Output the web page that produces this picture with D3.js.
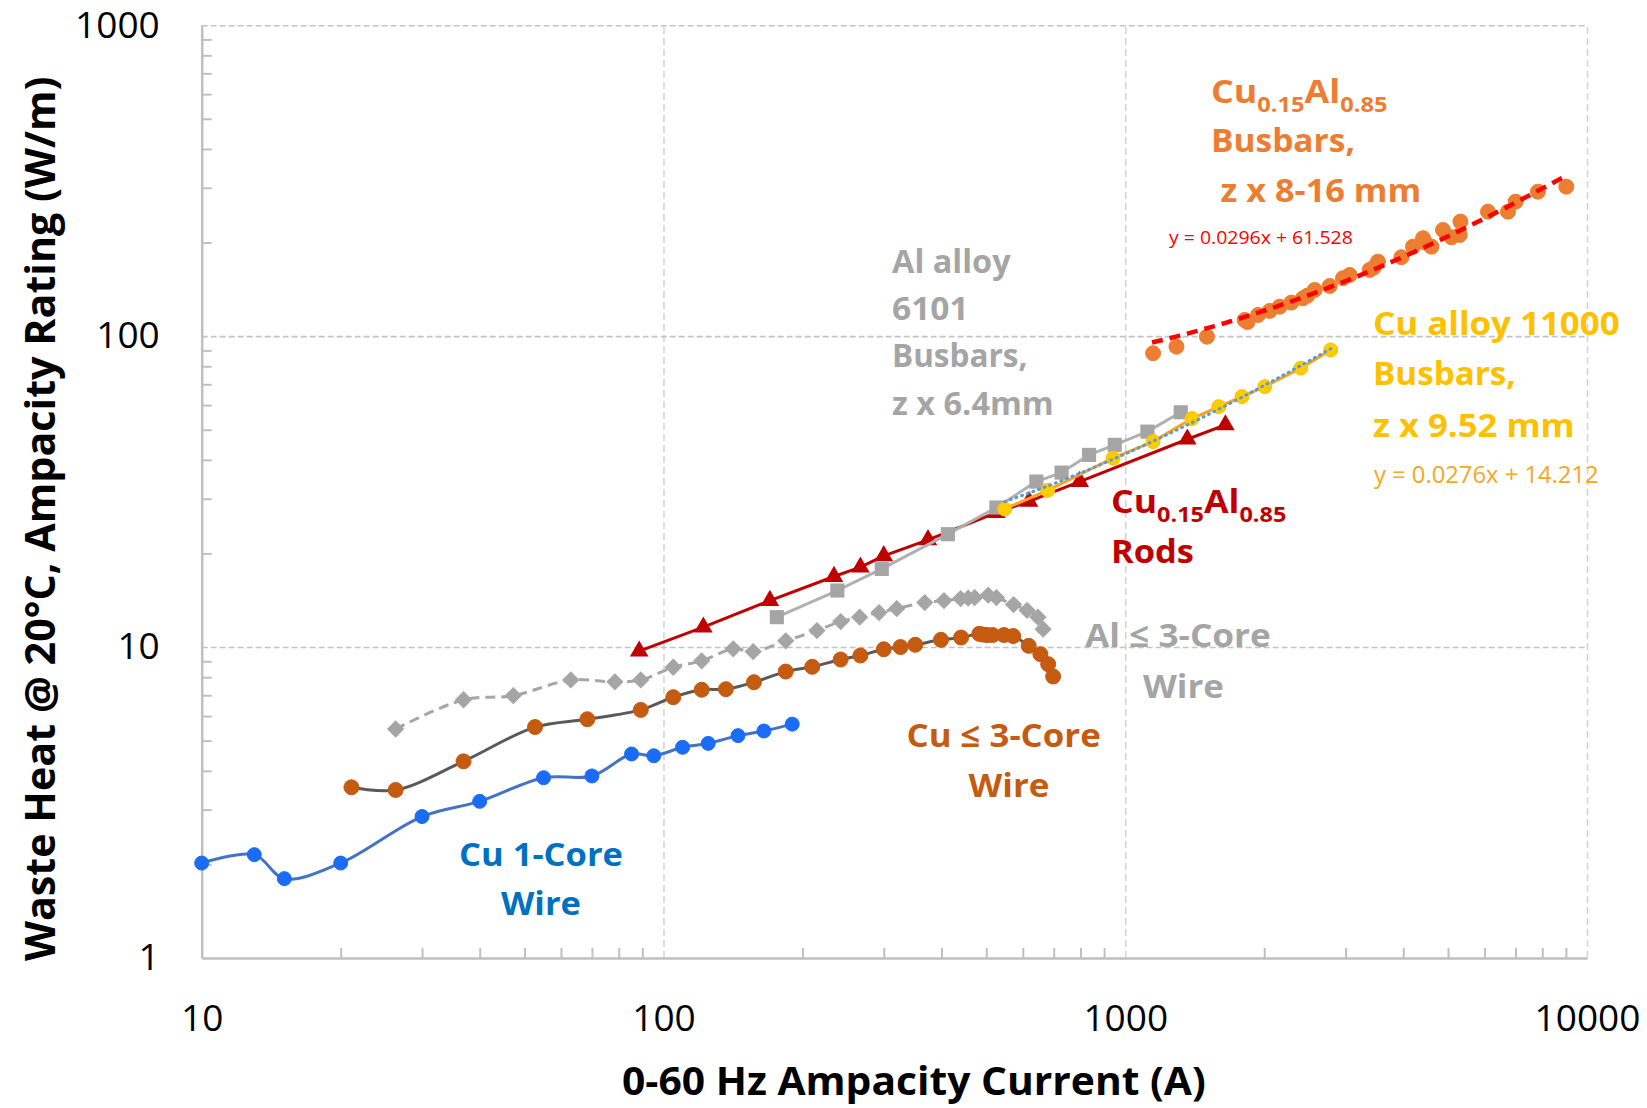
<!DOCTYPE html>
<html><head><meta charset="utf-8">
<script src="https://cdn.jsdelivr.net/npm/d3@7"></script>
<style>
body{margin:0;background:#fff}
svg{display:block}
text{font-family:"Open Sans","Noto Sans",sans-serif}
</style>
</head><body>
<svg id="c" width="1647" height="1108"></svg>
<script>
// ---------------- data ----------------
const xTicks = [10, 100, 1000, 10000];
const yTicks = [1, 10, 100, 1000];

// Cu 1-Core Wire
const cu1X = [10, 13, 15.1, 20, 30, 40, 55, 70, 85.3, 95.3, 110, 125, 145, 165, 190];
const cu1Y = [2.02, 2.15, 1.80, 2.02, 2.85, 3.19, 3.80, 3.85, 4.53, 4.47, 4.76, 4.90, 5.19, 5.37, 5.65];

// Cu <= 3-Core Wire
const cu3X = [21.1, 26.3, 36.9, 52.7, 68.4, 89.3, 105, 121, 136.5, 157, 184, 210, 242, 267, 300, 326, 351, 399, 441, 483, 492, 502, 516, 546, 572, 618, 655, 681, 698];
const cu3Y = [3.54, 3.47, 4.29, 5.53, 5.86, 6.28, 6.9, 7.29, 7.32, 7.71, 8.34, 8.64, 9.12, 9.39, 9.84, 10.0, 10.17, 10.55, 10.73, 11.03, 10.97, 10.93, 10.93, 10.93, 10.85, 10.09, 9.49, 8.81, 8.04];

// Al <= 3-Core Wire
const al3X = [26.3, 36.9, 47.3, 63, 78.5, 89.3, 105, 121, 141.6, 156.4, 184, 215, 242, 266, 293, 320, 368, 405, 440, 457, 472, 505, 526, 573, 613, 647, 664];
const al3Y = [5.45, 6.77, 6.98, 7.84, 7.73, 7.84, 8.61, 9.03, 9.87, 9.67, 10.47, 11.3, 12.08, 12.48, 12.91, 13.3, 13.9, 14.11, 14.32, 14.36, 14.43, 14.69, 14.43, 13.7, 13.13, 12.48, 11.42];

// Cu0.15Al0.85 Rods
const rodX = [88.6, 122, 170, 234, 267, 300, 374, 526, 619, 797, 1363, 1648];
const rodY = [9.7, 11.59, 14.11, 16.86, 18.07, 19.65, 22.12, 27.07, 29.4, 34.06, 46.6, 51.8];

// Al alloy 6101 Busbars
const alBusX = [176, 238, 297, 413, 526, 642, 728, 835, 949, 1117, 1319];
const alBusY = [12.48, 15.2, 17.84, 23.07, 28.1, 34.06, 36.4, 41.5, 44.7, 49.3, 56.9];

// Cu alloy 11000 Busbars
const cuAlloyX = [548, 679, 941, 1149, 1395, 1594, 1790, 2005, 2399, 2786];
const cuAlloyY = [27.8, 31.9, 40.5, 45.8, 54.3, 59.3, 63.9, 68.8, 78.9, 90.3];

// Cu0.15Al0.85 Busbars
const cuAlBusX = [1149, 1291, 1503, 1814, 1840, 1939, 2055, 2160, 2290, 2426, 2480, 2572, 2772, 2962, 3062, 3383, 3450, 3526, 3963, 4200, 4415, 4460, 4603, 4877, 5085, 5319, 5301, 6103, 6743, 7005, 7830, 9020];
const cuAlBusY = [88.1, 92.5, 99.6, 112.7, 111, 117, 120.5, 124.4, 128.2, 132.4, 135, 140.8, 145, 153.6, 157.3, 163.3, 166, 173.6, 179.4, 194, 206.5, 200, 194, 219.5, 208, 233.5, 211.6, 251.3, 251.3, 270.7, 291.5, 302.5];

// Linear trendlines as printed on the chart (slope, intercept, x-range)
const trendCuAlBus = [0.0296, 61.528];
const trendCuAlBusRange = [1143, 9080];
const trendCuAlloy = [0.0276, 14.212];
const trendCuAlloyRange = [548, 2786];

// ---------------- chart ----------------
const svg = d3.select("#c");
svg.append("rect").attr("width", 1647).attr("height", 1108).attr("fill", "#fff");

const L = 201.7, R = 1587, T = 25.2, B = 958;
const x = d3.scaleLog().domain([10, 10000]).range([L, R]);
const y = d3.scaleLog().domain([1, 1000]).range([B, T]);

const minors = (decs) => decs.flatMap(d => d3.range(2, 10).map(k => k * d));

// vertical gridlines
svg.append("g").attr("transform", `translate(0,${B})`)
  .call(d3.axisBottom(x).tickValues([100, 1000, 10000]).tickSize(-(B - T)).tickFormat(""))
  .call(g => g.select(".domain").remove())
  .call(g => g.selectAll("line").attr("stroke", "#d4d4d4").attr("stroke-width", 1.6).attr("stroke-dasharray", "7,4"));

// horizontal gridlines
svg.append("g").attr("transform", `translate(${L},0)`)
  .call(d3.axisLeft(y).tickValues([10, 100, 1000]).tickSize(-(R - L)).tickFormat(""))
  .call(g => g.select(".domain").remove())
  .call(g => g.selectAll("line").attr("stroke", "#c4c4c4").attr("stroke-width", 1.6).attr("stroke-dasharray", "6,3"));

// y axis line + minor ticks
svg.append("g").attr("transform", `translate(${L},0)`)
  .call(d3.axisRight(y).tickValues(minors([1, 10, 100])).tickSize(10).tickSizeOuter(0).tickFormat(""))
  .call(g => g.select(".domain").attr("stroke", "#bfbfbf").attr("stroke-width", 2.5))
  .call(g => g.selectAll("line").attr("stroke", "#bfbfbf").attr("stroke-width", 2));

// x axis line + minor ticks
svg.append("g").attr("transform", `translate(0,${B})`)
  .call(d3.axisTop(x).tickValues(minors([10, 100, 1000])).tickSize(10).tickSizeOuter(0).tickFormat(""))
  .call(g => g.select(".domain").attr("stroke", "#bfbfbf").attr("stroke-width", 2.5))
  .call(g => g.selectAll("line").attr("stroke", "#bfbfbf").attr("stroke-width", 2));

// tick labels
svg.append("g").attr("transform", `translate(${L},0)`)
  .call(d3.axisLeft(y).tickValues(yTicks).tickFormat(d3.format("d")).tickSize(0).tickPadding(42))
  .call(g => g.select(".domain").remove())
  .call(g => g.selectAll("text").attr("font-size", 37).attr("fill", "#000").style("font-family", '"Open Sans",sans-serif'));

svg.append("g").attr("transform", `translate(0,${B})`)
  .call(d3.axisBottom(x).tickValues(xTicks).tickFormat(d3.format("d")).tickSize(0).tickPadding(47))
  .call(g => g.select(".domain").remove())
  .call(g => g.selectAll("text").attr("font-size", 37).attr("fill", "#000").style("font-family", '"Open Sans",sans-serif'));

// ---------------- series ----------------
const pts = (xs, ys) => xs.map((v, i) => [v, ys[i]]);
const lineStraight = d3.line().x(d => x(d[0])).y(d => y(d[1]));
const lineSmooth = d3.line().x(d => x(d[0])).y(d => y(d[1])).curve(d3.curveCatmullRom.alpha(0.5));
const plot = svg.append("g");

function drawLine(data, gen, color, w, dash) {
  plot.append("path").datum(data).attr("d", gen).attr("fill", "none")
    .attr("stroke", color).attr("stroke-width", w)
    .attr("stroke-dasharray", dash || null).attr("stroke-linejoin", "round");
}
function drawCircles(data, r, fill, stroke) {
  plot.append("g").selectAll("circle").data(data).join("circle")
    .attr("cx", d => x(d[0])).attr("cy", d => y(d[1])).attr("r", r)
    .attr("fill", fill).attr("stroke", stroke || fill).attr("stroke-width", 1);
}
function drawSymbols(data, type, size, fill, rot) {
  const sym = d3.symbol().type(type).size(size);
  plot.append("g").selectAll("path").data(data).join("path")
    .attr("d", sym).attr("fill", fill)
    .attr("transform", d => `translate(${x(d[0])},${y(d[1])})${rot ? ` rotate(${rot})` : ""}`);
}
function trend(coef, range) {
  const n = 80;
  const lx0 = Math.log10(range[0]), lx1 = Math.log10(range[1]);
  return d3.range(n + 1).map(i => {
    const xv = Math.pow(10, lx0 + (lx1 - lx0) * i / n);
    return [xv, coef[0] * xv + coef[1]];
  });
}

const cu1 = pts(cu1X, cu1Y), cu3 = pts(cu3X, cu3Y), al3 = pts(al3X, al3Y);
const rods = pts(rodX, rodY), alBus = pts(alBusX, alBusY), cuAlloy = pts(cuAlloyX, cuAlloyY);
const cuAlBus = pts(cuAlBusX, cuAlBusY);

// Cu 1-core
drawLine(cu1, lineSmooth, "#4472c4", 3);
drawCircles(cu1, 7, "#1a6cf5");
// Cu <= 3-core
drawLine(cu3, lineSmooth, "#595959", 3);
drawCircles(cu3, 7.5, "#c55a11");
// Al <= 3-core
drawLine(al3, lineSmooth, "#a6a6a6", 3, "10,6");
drawSymbols(al3, d3.symbolSquare, 150, "#a5a5a5", 45);
// Rods
drawLine(rods, lineStraight, "#c00000", 3);
drawSymbols(rods, d3.symbolTriangle, 150, "#c00000");
// Al alloy busbars
drawLine(alBus, lineStraight, "#b0b0b0", 3);
drawSymbols(alBus, d3.symbolSquare, 200, "#a5a5a5");
// Cu alloy busbars
drawLine(cuAlloy, lineStraight, "#ffa31a", 3);
drawCircles(cuAlloy, 7, "#ffcc00", "#ffc000");
// Cu-Al busbars scatter
drawCircles(cuAlBus, 7.5, "#ed7d31");
// trendlines
plot.append("path").datum(trend(trendCuAlloy, trendCuAlloyRange)).attr("d", lineStraight)
  .attr("fill", "none").attr("stroke", "#5b9bd5").attr("stroke-width", 3)
  .attr("stroke-dasharray", "1,5").attr("stroke-linecap", "round");
plot.append("path").datum(trend(trendCuAlBus, trendCuAlBusRange)).attr("d", lineStraight)
  .attr("fill", "none").attr("stroke", "#ff0000").attr("stroke-width", 4.5)
  .attr("stroke-dasharray", "11,7");

// ---------------- text ----------------
function addText(parts, o) {
  const g = svg.append("g").attr("transform", `translate(${o.x},${o.y})${o.rotate ? ` rotate(${o.rotate})` : ""}`);
  const t = g.append("text").attr("x", 0).attr("y", 0)
    .attr("font-size", o.size).attr("font-weight", o.weight || 700).attr("fill", o.color);
  let shifted = false;
  const sh = o.size * 0.26;
  parts.forEach(p => {
    const isSub = Array.isArray(p);
    const ts = t.append("tspan").text(isSub ? p[0] : p);
    if (isSub) { ts.attr("font-size", o.size * 0.66).attr("dy", shifted ? 0 : sh); shifted = true; }
    else if (shifted) { ts.attr("dy", -sh); shifted = false; }
  });
  if (o.width) {
    const len = t.node().getComputedTextLength();
    if (len > 0) t.attr("transform", `scale(${o.width / len},1)`);
  }
}
const SZ = 33;
const cuAl = ["Cu", ["0.15"], "Al", ["0.85"]];
// Cu0.15Al0.85 busbars label
addText(cuAl, {x: 1211, y: 103, size: SZ, color: "#ed7d31", width: 176.5});
addText(["Busbars,"], {x: 1211, y: 152, size: SZ, color: "#ed7d31", width: 144});
addText(["z x 8-16 mm"], {x: 1220.6, y: 202, size: SZ, color: "#ed7d31", width: 200.6});
addText(["y = 0.0296x + 61.528"], {x: 1169, y: 244, size: 19, weight: 400, color: "#ff0000", width: 184});
// Al alloy 6101
addText(["Al alloy"], {x: 892, y: 273, size: SZ, color: "#a5a5a5", width: 118.7});
addText(["6101"], {x: 892, y: 320, size: SZ, color: "#a5a5a5", width: 76.7});
addText(["Busbars,"], {x: 892, y: 367, size: SZ, color: "#a5a5a5", width: 135.5});
addText(["z x 6.4mm"], {x: 892, y: 415, size: SZ, color: "#a5a5a5", width: 161.8});
// Cu alloy 11000
addText(["Cu alloy 11000"], {x: 1373, y: 335, size: SZ, color: "#ffc000", width: 246.8});
addText(["Busbars,"], {x: 1373, y: 385, size: SZ, color: "#ffc000", width: 142.8});
addText(["z x 9.52 mm"], {x: 1373, y: 437, size: SZ, color: "#ffc000", width: 201.7});
addText(["y = 0.0276x + 14.212"], {x: 1374, y: 483, size: 23, weight: 400, color: "#f5a623", width: 224.8});
// Rods
addText(cuAl, {x: 1111, y: 513, size: SZ, color: "#c00000", width: 175.4});
addText(["Rods"], {x: 1111, y: 563, size: SZ, color: "#c00000", width: 83});
// Al <= 3-core
addText(["Al \u2264 3-Core"], {x: 1085, y: 647, size: SZ, color: "#a5a5a5", width: 186});
addText(["Wire"], {x: 1143, y: 698, size: SZ, color: "#a5a5a5", width: 81});
// Cu <= 3-core
addText(["Cu \u2264 3-Core"], {x: 906.5, y: 747, size: SZ, color: "#c55a11", width: 194.3});
addText(["Wire"], {x: 968.5, y: 796.5, size: SZ, color: "#c55a11", width: 81});
// Cu 1-core
addText(["Cu 1-Core"], {x: 459, y: 865.5, size: SZ, color: "#0070c0", width: 164});
addText(["Wire"], {x: 501, y: 914.7, size: SZ, color: "#0070c0", width: 80});
// axis titles
addText(["0-60 Hz Ampacity Current (A)"], {x: 622, y: 1095, size: 40, color: "#000", width: 584});
addText(["Waste Heat @ 20\u00B0C, Ampacity Rating (W/m)"], {x: 55, y: 961, size: 42, color: "#000", width: 885, rotate: -90});
</script>
</body></html>
